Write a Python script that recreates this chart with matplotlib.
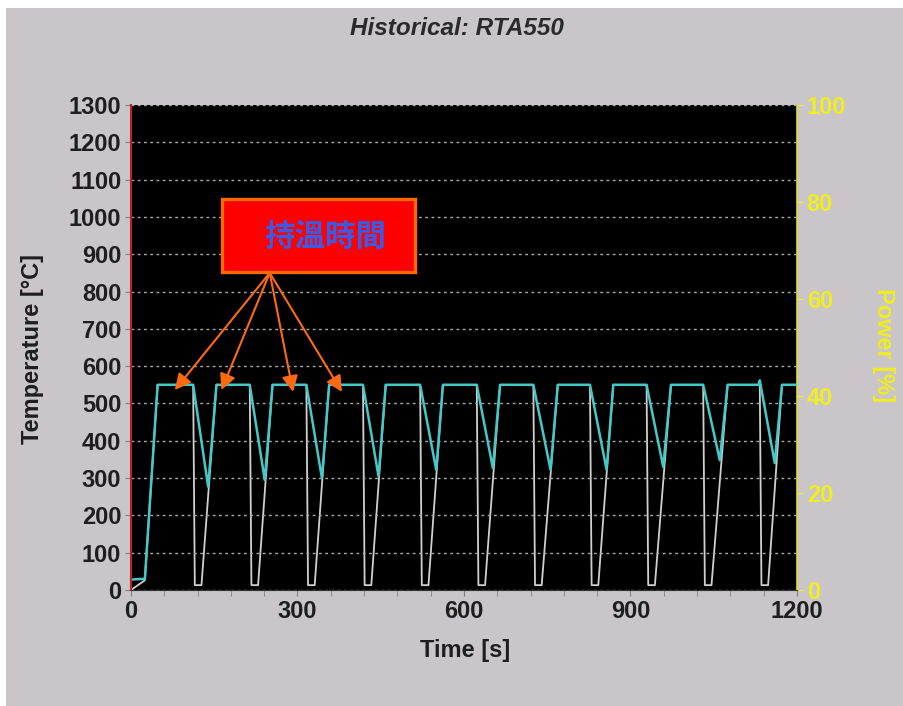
import matplotlib.pyplot as plt
from matplotlib.patches import Rectangle
from matplotlib.ticker import MultipleLocator

plt.rcParams['font.family'] = ['Liberation Sans', 'DejaVu Sans']

# furnace temperature trace (s, degC)
temp_time = [0, 25, 48,
             112, 139, 154,
             214, 241, 255,
             316, 344, 357,
             418, 446, 459,
             521, 550, 562,
             623, 652, 665,
             725, 756, 769,
             827, 857, 869,
             929, 959, 973,
             1031, 1061, 1075,
             1131, 1133, 1160, 1173,
             1200]
temp_val = [28, 30, 550,
            550, 277, 550,
            550, 295, 550,
            550, 300, 550,
            550, 305, 550,
            550, 322, 550,
            550, 327, 550,
            550, 322, 550,
            550, 322, 550,
            550, 330, 550,
            550, 348, 550,
            550, 562, 340, 550,
            550]

# lamp power trace (s, %)
power_time = [0, 25, 48,
              112, 115, 127, 154,
              214, 217, 229, 255,
              316, 319, 331, 357,
              418, 421, 433, 459,
              521, 524, 536, 562,
              623, 626, 638, 665,
              725, 728, 740, 769,
              827, 830, 842, 869,
              929, 932, 944, 973,
              1031, 1034, 1046, 1075,
              1133, 1136, 1148, 1173,
              1200]
power_val = [0, 2, 42.3,
             42.3, 1, 1, 42.3,
             42.3, 1, 1, 42.3,
             42.3, 1, 1, 42.3,
             42.3, 1, 1, 42.3,
             42.3, 1, 1, 42.3,
             42.3, 1, 1, 42.3,
             42.3, 1, 1, 42.3,
             42.3, 1, 1, 42.3,
             42.3, 1, 1, 42.3,
             42.3, 1, 1, 42.3,
             42.3, 1, 1, 42.3,
             42.3]

soak_label = '持溫時間'
soak_targets = [(79, 536), (163, 536), (292, 531), (380, 531)]

bg = '#c9c5c9'
yellow = '#eeee22'
orange = '#ff6a10'

fig = plt.figure(figsize=(9.04, 7.06), dpi=100)
fig.patch.set_facecolor('white')
fig.patches.append(Rectangle((6 / 904, 0), 1, 1 - 8 / 706, transform=fig.transFigure,
                             facecolor=bg, edgecolor='none', zorder=-10))

ax = fig.add_axes([0.1449, 0.1643, 0.7367, 0.687])
ax2 = ax.twinx()
ax.set_zorder(ax2.get_zorder() + 1)
ax.patch.set_visible(False)
ax2.patch.set_visible(True)
ax2.patch.set_facecolor('black')

ax2.plot(power_time, power_val, color='#d0d0d0', lw=1.3)
ax.plot(temp_time, temp_val, color='#44c8c8', lw=1.8)

ax.set_xlim(0, 1200)
ax.set_ylim(0, 1300)
ax2.set_ylim(0, 100)

ax.set_xticks([0, 300, 600, 900, 1200])
ax.xaxis.set_minor_locator(MultipleLocator(60))
ax.set_yticks(range(0, 1301, 100))
ax2.set_yticks(range(0, 101, 20))

ax.yaxis.grid(True, linestyle=(0, (2, 2.5)), color='#a8a8a8', lw=1)
ax.set_axisbelow(True)

ax.tick_params(axis='y', direction='out', length=4, color='#808080',
               labelsize=17, labelcolor='#1e1e1e', pad=3)
ax.tick_params(axis='x', which='both', direction='out', length=4, color='#808080',
               labelsize=17, labelcolor='#1e1e1e', pad=3)
ax2.tick_params(axis='y', direction='out', length=4, color=yellow,
                labelsize=17, labelcolor=yellow, pad=3)
for lab in ax.get_xticklabels() + ax.get_yticklabels() + ax2.get_yticklabels():
    lab.set_fontweight('bold')

for side in ['top', 'right']:
    ax.spines[side].set_visible(False)
ax.spines['left'].set_color('#c02020')
ax.spines['left'].set_linewidth(1.5)
ax.spines['bottom'].set_color('#303030')
for side in ['top', 'left', 'bottom']:
    ax2.spines[side].set_visible(False)
ax2.spines['right'].set_color('#dede30')
ax2.spines['right'].set_linewidth(1.2)

# annotation box and arrows
ax.add_patch(Rectangle((164, 852), 348, 196, facecolor='#ff0000', edgecolor='#ff6a00',
                       lw=2.4, zorder=5))
ax.text(350, 946, soak_label, family=['Noto Sans CJK TC', 'DejaVu Sans'],
        fontsize=22, fontweight='bold', color='#3c5ae6', ha='center', va='center', zorder=6)
for tx, ty in soak_targets:
    ax.annotate('', xy=(tx, ty), xytext=(250, 850),
                arrowprops=dict(arrowstyle='-|>', color=orange, lw=1.5,
                                mutation_scale=24, shrinkA=0, shrinkB=0), zorder=6)

fig.text(0.506, 0.960, 'Historical: RTA550', fontsize=17.5, fontweight='bold',
         fontstyle='italic', color='#2a2a2a', ha='center', va='center')
fig.text(0.036, 0.505, 'Temperature [°C]', fontsize=17, fontweight='bold',
         color='#1e1e1e', rotation=90, ha='center', va='center')
fig.text(0.977, 0.511, 'Power [%]', fontsize=17, fontweight='bold',
         color=yellow, rotation=270, ha='center', va='center')
fig.text(0.514, 0.079, 'Time [s]', fontsize=17, fontweight='bold',
         color='#1e1e1e', ha='center', va='center')

fig.savefig('out.png', dpi=100, facecolor=fig.get_facecolor())
